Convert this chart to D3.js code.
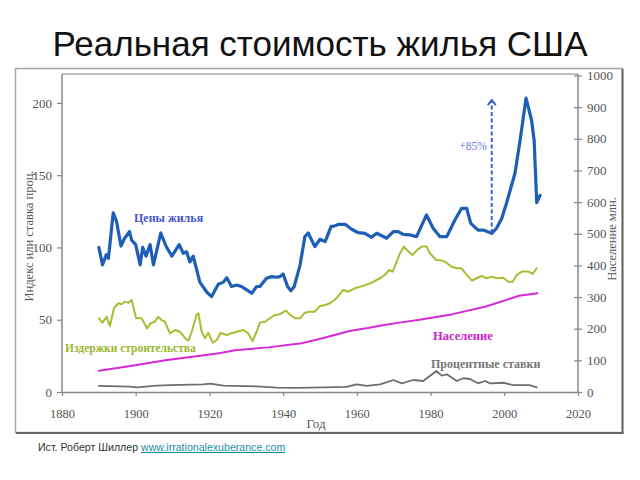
<!DOCTYPE html>
<html><head><meta charset="utf-8">
<script src="https://cdn.jsdelivr.net/npm/d3@7"></script>
<style>body{margin:0;background:#fff}svg{display:block}</style>
</head><body>
<svg id="c" width="640" height="480"></svg>
<script>
const xTicks = [1880, 1900, 1920, 1940, 1960, 1980, 2000, 2020];
const leftTicks = [0, 50, 100, 150, 200];
const rightTicks = [0, 100, 200, 300, 400, 500, 600, 700, 800, 900, 1000];

const homeYears = [1890,1891,1892,1892.6,1893.9,1894.8,1896,1896.9,1898.3,1898.9,1900,1901.2,1901.9,1902.8,1903.9,1904.8,1906.8,1908.2,1909.8,1911.8,1912.9,1913.8,1914.7,1915.6,1917.4,1919.3,1920.6,1922.4,1923.8,1924.7,1926,1927.4,1928.7,1930.1,1931.5,1932.8,1933.7,1935.5,1936.9,1938.2,1939.1,1940,1941.2,1942.1,1943,1944.6,1945.9,1946.8,1948.6,1950,1951.4,1953,1954.1,1955.1,1956.8,1958.6,1960.4,1962.2,1964,1965.4,1968.1,1969.9,1971.2,1972.6,1974.4,1976.2,1978.9,1980.7,1982.5,1984.4,1986.6,1988.4,1989.8,1990.9,1992.9,1994.3,1996.6,1997.9,1999.3,2000.6,2002.9,2004.3,2005.9,2007.4,2008.1,2008.8,2009.7];
const homeIndex = [100,88,95,92.5,124,118,101,106,111,105,102,88,100,94,102,88,110,101,94,102,96,97,90,94,76,69,66,74.5,76,79,73,74,73,70.6,68.3,73,73,78.7,79.8,79.4,79.8,81.7,73,70,73,88,107.5,110,100.6,105.7,104,114.4,115,116,116,112.6,110.2,109.8,107,109.8,106.4,111,111,109,108.7,107.5,122.5,113.3,107.5,107.5,119,127,127,116.7,112,112,109.8,113.3,120,130.6,151.3,174.4,203.3,188,174,131,136];

const costYears = [1890,1891,1892.1,1893,1894.1,1895.3,1896.2,1897.1,1898,1898.9,1900.1,1901.6,1903.1,1904,1905.2,1906.1,1907,1907.9,1909.3,1910.7,1912,1913.4,1914.3,1915.2,1916.5,1917,1917.9,1918.8,1919.7,1920.9,1922,1923,1924.7,1926,1927.4,1929.2,1930.5,1931.7,1932.8,1933.7,1935.1,1936.4,1937.8,1939.1,1940.8,1941.9,1943.2,1944.6,1945.9,1947.3,1948.6,1950,1951.4,1952.7,1954.1,1955.2,1956.3,1957.7,1959.5,1961.7,1964,1966.3,1967.6,1968.8,1969.7,1970.8,1971.7,1972.8,1974,1975.1,1976.4,1977.6,1978.9,1979.8,1981.5,1983,1983.9,1985.7,1987.1,1988.4,1989.3,1991.2,1992.5,1993.9,1995.2,1996.6,1997.9,1999.7,2001.1,2002.3,2003.4,2004.8,2006.6,2007.7,2008.8];
const costIndex = [51,48,52,45.7,58,61.4,60.7,62.5,61.8,63.7,51,51,44,47.5,48.6,52,49.8,48.6,40.6,42.9,41.7,37.2,35.5,41.7,53.3,54.5,41.7,37.2,41,34.1,36,41,39.4,40.6,41.7,42.9,40.6,35.3,41.7,48,48.6,51,53.3,53.8,56.3,53.3,51,51,54.9,55.6,55.6,59.5,60.2,61.4,64,67,70.6,69.4,71.8,73.4,75.6,78.7,81,84.4,83.3,90.2,96,100.6,97.1,94.8,98.3,100.6,100.6,96,91.3,90.9,90.2,86.7,85.6,85.6,82.6,77,78.7,80.3,78.7,79.8,78.7,79.1,76.3,76.3,81,83.3,83.3,81.7,85.6];

const popYears = [1890,1899,1908,1917,1923,1927,1936,1945,1949,1954,1958,1963,1967,1972,1977,1986,1995,2004,2009];
const population = [67,83,100,114,123,132,141,154,165,180,193,202,211,220,228,246,270,304,312];

const rateYears = [1890,1898.4,1900.3,1905.7,1909.3,1918.3,1920.2,1923.8,1932.8,1938.2,1943.7,1950.9,1957.2,1959.9,1962.7,1966.3,1969.9,1972.2,1975.3,1978,1981.6,1983,1984.4,1987.1,1988.9,1990.7,1992.9,1994.8,1996.1,1999.7,2002.4,2006.9,2008.8];
const rates = [4.2,3.7,3.2,4.4,4.8,5.3,5.8,4.4,3.9,3,2.8,3.2,3.5,5.3,4.2,5.3,8.3,6,8.3,7.6,14.5,11.3,12.2,7.6,9.5,9,6,7.6,6,6.4,4.8,4.8,3.2];

const arrowYear = 1996.6, arrowFrom = 110, arrowTo = 202;

const svg = d3.select("#c");
const L = 62, R = 578, T = 74, B = 392;
const x = d3.scaleLinear().domain([1880, 2020]).range([L, R]);
const yL = d3.scaleLinear().domain([0, 220]).range([B, T]);
const yR = d3.scaleLinear().domain([0, 1000]).range([B, 75.5]);

const serif = "'Liberation Serif','Times New Roman',Times,serif";
const sans = "'Liberation Sans',Arial,sans-serif";

// title
svg.append("text").attr("x", 320).attr("y", 56).attr("text-anchor", "middle")
  .style("font-family", sans).style("font-size", "35px").attr("fill", "#111")
  .text("Реальная стоимость жилья США");

// outer frame
svg.append("rect").attr("x", 15.5).attr("y", 68.5).attr("width", 607).attr("height", 364)
  .attr("fill", "#fff").attr("stroke", "#a8a8a8").attr("stroke-width", 1.5);
svg.append("line").attr("x1", 622.5).attr("x2", 622.5).attr("y1", 69).attr("y2", 433.5).attr("stroke", "#666").attr("stroke-width", 2);
svg.append("line").attr("x1", 16).attr("x2", 623.5).attr("y1", 433).attr("y2", 433).attr("stroke", "#666").attr("stroke-width", 2);

// top line of plot
svg.append("line").attr("x1", L).attr("x2", R).attr("y1", T).attr("y2", T).attr("stroke", "#aaa").attr("stroke-width", 1.5);

function styleAxis(g, size) {
  g.attr("font-family", null).attr("font-size", null);
  g.select(".domain").attr("stroke", "#888").attr("stroke-width", 1.5);
  g.selectAll(".tick line").attr("stroke", "#888").attr("stroke-width", 1.2);
  g.selectAll(".tick text").style("font-family", serif).style("font-size", size + "px").attr("fill", "#555");
}
const gx = svg.append("g").attr("transform", `translate(0,${B})`)
  .call(d3.axisBottom(x).tickValues(xTicks).tickFormat(d3.format("d")).tickSize(4).tickSizeOuter(0).tickPadding(13));
styleAxis(gx, 12.5);
const gl = svg.append("g").attr("transform", `translate(${L},0)`)
  .call(d3.axisLeft(yL).tickValues(leftTicks).tickFormat(d3.format("d")).tickSize(5).tickSizeOuter(0).tickPadding(5));
styleAxis(gl, 13);
const gr = svg.append("g").attr("transform", `translate(${R},0)`)
  .call(d3.axisRight(yR).tickValues(rightTicks).tickFormat(d3.format("d")).tickSize(4).tickSizeOuter(0).tickPadding(5));
styleAxis(gr, 13); gr.selectAll(".tick line").attr("x1", -4);
gr.select(".domain").attr("d", `M0,${T}V${B}`);
gl.select(".domain").attr("d", `M0,${T}V${B}`);

// axis titles
svg.append("text").attr("transform", `translate(33,${(T + B) / 2 + 3}) rotate(-90)`).attr("text-anchor", "middle")
  .style("font-family", serif).style("font-size", "12.5px").attr("fill", "#555").text("Индекс или ставка проц.");
svg.append("text").attr("transform", `translate(616,${(T + B) / 2 + 6}) rotate(-90)`).attr("text-anchor", "middle")
  .style("font-family", serif).style("font-size", "12.5px").attr("fill", "#555").text("Население млн.");
svg.append("text").attr("x", 316).attr("y", 428).attr("text-anchor", "middle")
  .style("font-family", serif).style("font-size", "13px").attr("fill", "#555").text("Год");

// lines
function drawLine(xs, ys, yScale, color, w) {
  const pts = xs.map((d, i) => [d, ys[i]]);
  svg.append("path").datum(pts).attr("fill", "none").attr("stroke", color).attr("stroke-width", w)
    .attr("stroke-linejoin", "round").attr("stroke-linecap", "round")
    .attr("d", d3.line().x(d => x(d[0])).y(d => yScale(d[1])));
}
drawLine(rateYears, rates, yL, "#6e6e6e", 1.8);
drawLine(popYears, population, yR, "#d62ad6", 2);
drawLine(costYears, costIndex, yL, "#a3c034", 2);
drawLine(homeYears, homeIndex, yL, "#1d5fb6", 3.2);

// dashed arrow
const ax = x(arrowYear);
svg.append("line").attr("x1", ax).attr("x2", ax).attr("y1", yL(arrowFrom)).attr("y2", yL(arrowTo))
  .attr("stroke", "#3e62cc").attr("stroke-width", 2).attr("stroke-dasharray", "4,2.5");
svg.append("path").attr("d", `M${ax - 4},${yL(arrowTo) + 5}L${ax},${yL(arrowTo)}L${ax + 4},${yL(arrowTo) + 5}`)
  .attr("fill", "none").attr("stroke", "#3e62cc").attr("stroke-width", 2);
svg.append("text").attr("x", ax - 5).attr("y", 150).attr("text-anchor", "end")
  .style("font-family", serif).style("font-size", "11.5px").attr("fill", "#6a7bd8").text("+85%");

// series labels
function label(t, xx, yy, color, size) {
  svg.append("text").attr("x", xx).attr("y", yy).style("font-family", serif).style("font-weight", "bold")
    .style("font-size", size + "px").attr("fill", color).text(t);
}
label("Цены жилья", 134, 222, "#4455c8", 12);
label("Издержки строительства", 65, 352, "#9ab82e", 11.5);
label("Население", 433, 340, "#cc22cc", 12.5);
label("Процентные ставки", 431, 368, "#777", 12);

// source
const src = svg.append("text").attr("x", 38).attr("y", 451).style("font-family", sans).style("font-size", "10.6px");
src.append("tspan").attr("fill", "#333").text("Ист. Роберт Шиллер ");
src.append("tspan").attr("fill", "#1c8fa8").attr("text-decoration", "underline").text("www.irrationalexuberance.com");
</script>
</body></html>
